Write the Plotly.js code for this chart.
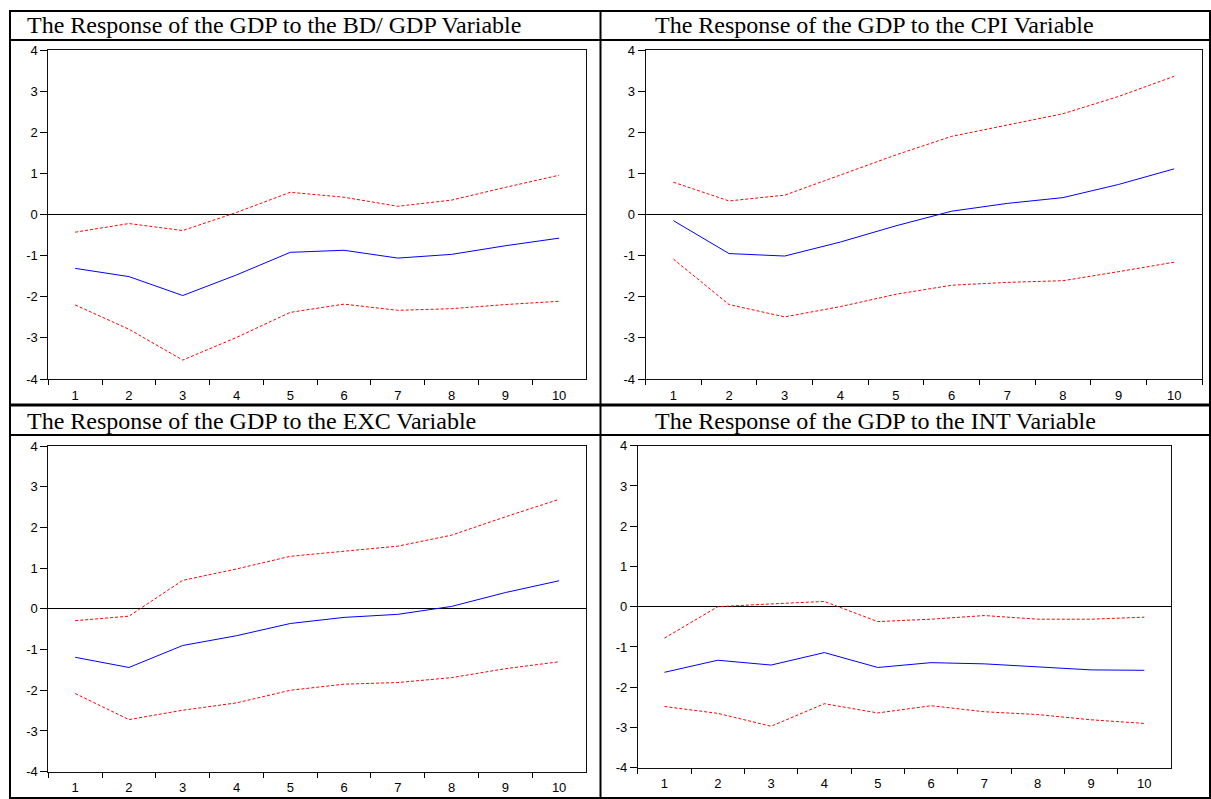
<!DOCTYPE html>
<html>
<head>
<meta charset="utf-8">
<script src="https://cdn.plot.ly/plotly-3.0.1.min.js"></script>
<style>
html,body{margin:0;padding:0;background:#fff;}
#chart{width:1211px;height:799px;}
</style>
</head>
<body>
<div id="chart"></div>
<script>
// ---- Data ----
const periods = ['1','2','3','4','5','6','7','8','9','10'];

const titles = [
  'The Response of the GDP to the BD/ GDP Variable',
  'The Response of the GDP to the CPI Variable',
  'The Response of the GDP to the EXC Variable',
  'The Response of the GDP to the INT Variable'
];

const bdResp  = [-1.31, -1.51, -1.97, -1.47, -0.92, -0.87, -1.06, -0.97, -0.76, -0.575];
const bdUpper = [-0.43, -0.22, -0.39, 0.05, 0.54, 0.42, 0.20, 0.35, 0.66, 0.955];
const bdLower = [-2.20, -2.79, -3.54, -2.99, -2.38, -2.18, -2.33, -2.29, -2.19, -2.11];

const cpiResp  = [-0.15, -0.95, -1.01, -0.67, -0.275, 0.08, 0.27, 0.41, 0.73, 1.11];
const cpiUpper = [0.785, 0.33, 0.47, 0.955, 1.45, 1.90, 2.18, 2.45, 2.87, 3.36];
const cpiLower = [-1.085, -2.19, -2.49, -2.24, -1.94, -1.72, -1.65, -1.61, -1.39, -1.16];

const excResp  = [-1.19, -1.44, -0.90, -0.66, -0.36, -0.21, -0.135, 0.06, 0.40, 0.69];
const excUpper = [-0.29, -0.18, 0.70, 0.98, 1.29, 1.42, 1.54, 1.81, 2.26, 2.69];
const excLower = [-2.08, -2.72, -2.49, -2.31, -2.00, -1.85, -1.81, -1.69, -1.47, -1.30];

const intResp  = [-1.63, -1.33, -1.45, -1.14, -1.51, -1.39, -1.42, -1.50, -1.57, -1.58];
const intUpper = [-0.78, 0.0, 0.07, 0.13, -0.37, -0.31, -0.22, -0.31, -0.31, -0.26];
const intLower = [-2.48, -2.65, -2.97, -2.41, -2.64, -2.46, -2.61, -2.68, -2.81, -2.90];

const yTickVals = [-4, -3, -2, -1, 0, 1, 2, 3, 4];
const yTickText = ['-4', '-3', '-2', '-1', '0', '1', '2', '3', '4'];

// ---- Layout geometry (pixels) ----
const W = 1211, H = 799;
const px = v => v / W;
const py = v => 1 - v / H;

const panels = [
  {resp: bdResp,  up: bdUpper,  lo: bdLower,  x0: 48.3,  x1: 586,  y0: 50,    y1: 379,   tx: 25,  ty: 25},
  {resp: cpiResp, up: cpiUpper, lo: cpiLower, x0: 645.6, x1: 1202, y0: 50,    y1: 379,   tx: 653, ty: 25},
  {resp: excResp, up: excUpper, lo: excLower, x0: 48.3,  x1: 586,  y0: 446,   y1: 771.7, tx: 25,  ty: 421},
  {resp: intResp, up: intUpper, lo: intLower, x0: 637.8, x1: 1171, y0: 445.7, y1: 767.7, tx: 653, ty: 421}
];

const tickFont = {family: 'Liberation Sans, Arial, sans-serif', size: 13, color: '#000'};
const traces = [];
const layout = {
  width: W, height: H,
  margin: {l: 0, r: 0, t: 0, b: 0},
  paper_bgcolor: '#fff', plot_bgcolor: '#fff',
  showlegend: false,
  shapes: [], annotations: []
};

panels.forEach((p, i) => {
  const n = i + 1;
  const xa = n === 1 ? 'x' : 'x' + n;
  const ya = n === 1 ? 'y' : 'y' + n;
  traces.push({x: periods, y: p.up, xaxis: xa, yaxis: ya, type: 'scatter', mode: 'lines',
    line: {color: '#ff0000', width: 1, dash: '3px,2px'}, hoverinfo: 'skip'});
  traces.push({x: periods, y: p.lo, xaxis: xa, yaxis: ya, type: 'scatter', mode: 'lines',
    line: {color: '#ff0000', width: 1, dash: '3px,2px'}, hoverinfo: 'skip'});
  traces.push({x: periods, y: p.resp, xaxis: xa, yaxis: ya, type: 'scatter', mode: 'lines',
    line: {color: '#0000ff', width: 1}, hoverinfo: 'skip'});
  layout['xaxis' + (n === 1 ? '' : n)] = {
    type: 'category', domain: [px(p.x0), px(p.x1)], anchor: ya,
    range: [-0.5, 9.5], tickson: 'boundaries', ticks: 'outside', ticklen: 5,
    ticklabelstandoff: 4,
    tickcolor: '#000', tickwidth: 1, showgrid: false, zeroline: false,
    showline: true, mirror: true, linecolor: '#111', linewidth: 1,
    tickfont: tickFont, fixedrange: true
  };
  layout['yaxis' + (n === 1 ? '' : n)] = {
    domain: [py(p.y1), py(p.y0)], anchor: xa,
    range: [-4, 4], tickmode: 'array', tickvals: yTickVals, ticktext: yTickText,
    ticks: 'outside', ticklen: 7,
    tickcolor: '#000', tickwidth: 1, showgrid: false,
    zeroline: true, zerolinecolor: '#000', zerolinewidth: 1,
    showline: true, mirror: true, linecolor: '#111', linewidth: 1,
    tickfont: tickFont, fixedrange: true
  };
  layout.annotations.push({
    xref: 'paper', yref: 'paper', x: px(p.tx), y: py(p.ty),
    xanchor: 'left', yanchor: 'middle', showarrow: false,
    text: titles[i],
    font: {family: 'Liberation Serif, Times New Roman, serif', size: 24, color: '#000'}
  });
});

// table borders
const seg = (x0, y0, x1, y1, w) => ({type: 'line', xref: 'paper', yref: 'paper',
  x0: px(x0), y0: py(y0), x1: px(x1), y1: py(y1), line: {color: '#000', width: w || 2}});
layout.shapes.push(
  seg(9, 11, 1211, 11),
  seg(9, 798, 1211, 798),
  seg(10, 11, 10, 798),
  seg(1210, 11, 1210, 798),
  seg(600.5, 11, 600.5, 798),
  seg(9, 40, 1211, 40),
  seg(9, 405, 1211, 405, 3),
  seg(9, 435, 1211, 435)
);

Plotly.newPlot('chart', traces, layout, {displayModeBar: false, staticPlot: true});
</script>
</body>
</html>
